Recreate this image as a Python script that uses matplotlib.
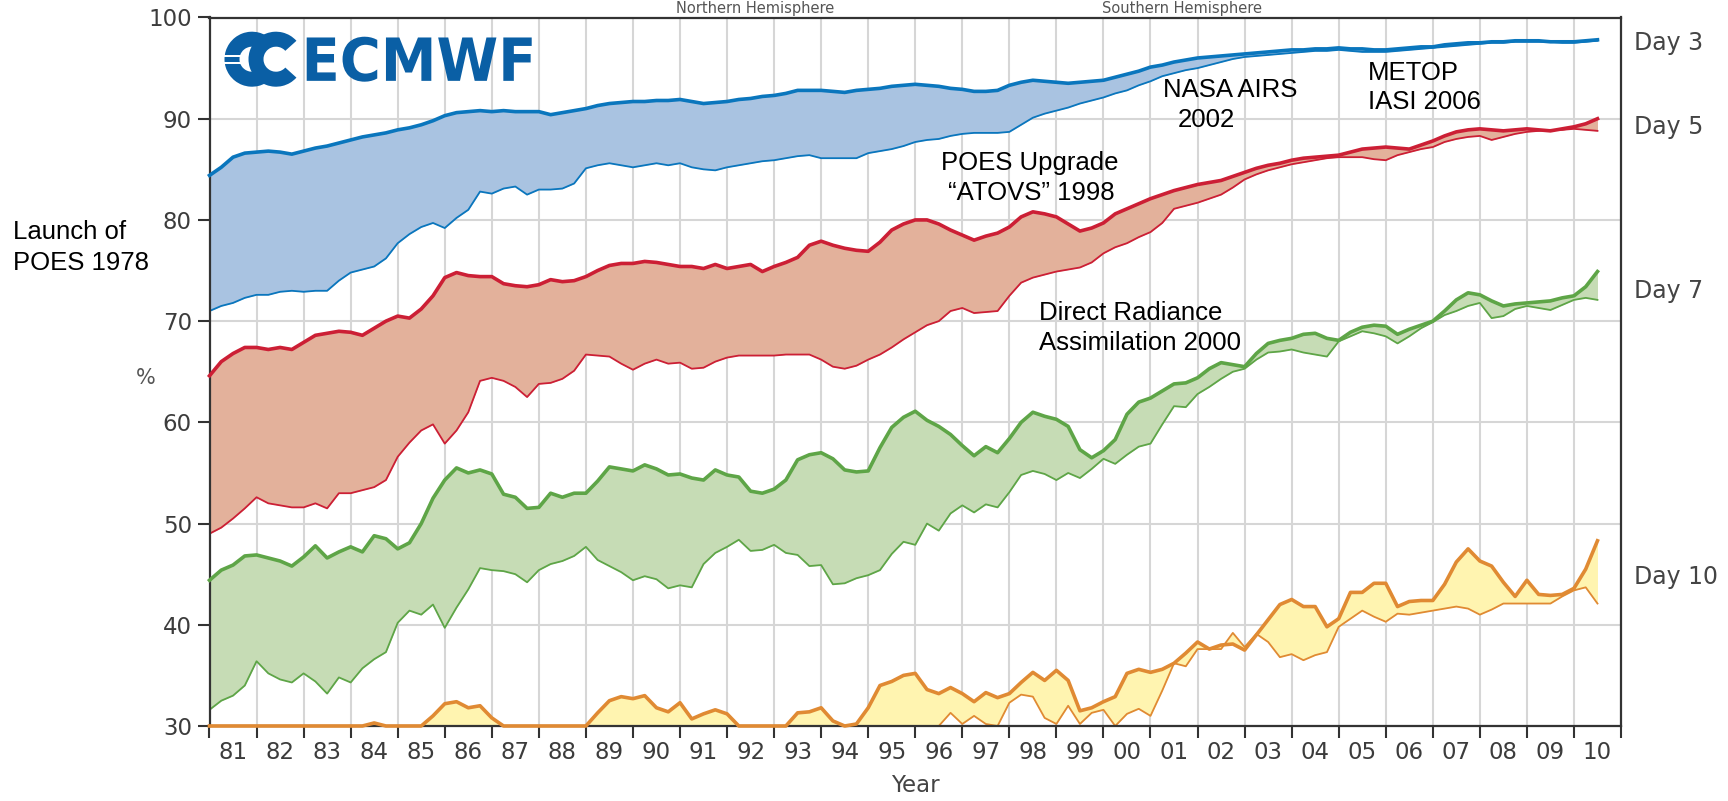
import numpy as np
import matplotlib
matplotlib.use("Agg")
import matplotlib.pyplot as plt
from matplotlib.patches import Wedge, PathPatch, Rectangle
from matplotlib.textpath import TextPath
from matplotlib.font_manager import FontProperties
from matplotlib.transforms import Affine2D

# ---------------- data (quarter-year samples, 1981.0 .. 2010.5) ----------------
start_year = 1981.0
step_year = 0.25

day3_nh = [
    84.4, 85.2, 86.2, 86.6, 86.7, 86.8, 86.7, 86.5, 86.8, 87.1, 87.3, 87.6,
    87.9, 88.2, 88.4, 88.6, 88.9, 89.1, 89.4, 89.8, 90.3, 90.6, 90.7, 90.8,
    90.7, 90.8, 90.7, 90.7, 90.7, 90.4, 90.6, 90.8, 91.0, 91.3, 91.5, 91.6,
    91.7, 91.7, 91.8, 91.8, 91.9, 91.7, 91.5, 91.6, 91.7, 91.9, 92.0, 92.2,
    92.3, 92.5, 92.8, 92.8, 92.8, 92.7, 92.6, 92.8, 92.9, 93.0, 93.2, 93.3,
    93.4, 93.3, 93.2, 93.0, 92.9, 92.7, 92.7, 92.8, 93.3, 93.6, 93.8, 93.7,
    93.6, 93.5, 93.6, 93.7, 93.8, 94.1, 94.4, 94.7, 95.1, 95.3, 95.6, 95.8,
    96.0, 96.1, 96.2, 96.3, 96.4, 96.5, 96.6, 96.7, 96.8, 96.8, 96.9, 96.9,
    97.0, 96.9, 96.9, 96.8, 96.8, 96.9, 97.0, 97.1, 97.1, 97.3, 97.4, 97.5,
    97.5, 97.6, 97.6, 97.7, 97.7, 97.7, 97.6, 97.6, 97.6, 97.7, 97.8]
day3_sh = [
    71.0, 71.5, 71.8, 72.3, 72.6, 72.6, 72.9, 73.0, 72.9, 73.0, 73.0, 74.0,
    74.8, 75.1, 75.4, 76.2, 77.7, 78.6, 79.3, 79.7, 79.2, 80.2, 81.0, 82.8,
    82.6, 83.1, 83.3, 82.5, 83.0, 83.0, 83.1, 83.6, 85.1, 85.4, 85.6, 85.4,
    85.2, 85.4, 85.6, 85.4, 85.6, 85.2, 85.0, 84.9, 85.2, 85.4, 85.6, 85.8,
    85.9, 86.1, 86.3, 86.4, 86.1, 86.1, 86.1, 86.1, 86.6, 86.8, 87.0, 87.3,
    87.7, 87.9, 88.0, 88.3, 88.5, 88.6, 88.6, 88.6, 88.7, 89.4, 90.1, 90.5,
    90.8, 91.1, 91.5, 91.8, 92.1, 92.5, 92.8, 93.3, 93.7, 94.2, 94.5, 94.8,
    95.0, 95.3, 95.6, 95.9, 96.1, 96.2, 96.3, 96.4, 96.5, 96.6, 96.7, 96.7,
    96.8, 96.7, 96.6, 96.6, 96.6, 96.7, 96.8, 96.9, 97.0, 97.1, 97.2, 97.3,
    97.4, 97.5, 97.5, 97.6, 97.6, 97.6, 97.6, 97.5, 97.5, 97.6, 97.7]
day5_nh = [
    64.6, 66.0, 66.8, 67.4, 67.4, 67.2, 67.4, 67.2, 67.9, 68.6, 68.8, 69.0,
    68.9, 68.6, 69.3, 70.0, 70.5, 70.3, 71.2, 72.5, 74.3, 74.8, 74.5, 74.4,
    74.4, 73.7, 73.5, 73.4, 73.6, 74.1, 73.9, 74.0, 74.4, 75.0, 75.5, 75.7,
    75.7, 75.9, 75.8, 75.6, 75.4, 75.4, 75.2, 75.6, 75.2, 75.4, 75.6, 74.9,
    75.4, 75.8, 76.3, 77.5, 77.9, 77.5, 77.2, 77.0, 76.9, 77.8, 79.0, 79.6,
    80.0, 80.0, 79.6, 79.0, 78.5, 78.0, 78.4, 78.7, 79.3, 80.3, 80.8, 80.6,
    80.3, 79.6, 78.9, 79.2, 79.7, 80.6, 81.1, 81.6, 82.1, 82.5, 82.9, 83.2,
    83.5, 83.7, 83.9, 84.3, 84.7, 85.1, 85.4, 85.6, 85.9, 86.1, 86.2, 86.3,
    86.4, 86.7, 87.0, 87.1, 87.2, 87.1, 87.0, 87.4, 87.8, 88.3, 88.7, 88.9,
    89.0, 88.9, 88.8, 88.9, 89.0, 88.9, 88.8, 89.0, 89.2, 89.5, 90.0]
day5_sh = [
    49.0, 49.6, 50.5, 51.5, 52.6, 52.0, 51.8, 51.6, 51.6, 52.0, 51.5, 53.0,
    53.0, 53.3, 53.6, 54.3, 56.6, 58.0, 59.2, 59.8, 57.9, 59.2, 61.0, 64.1,
    64.4, 64.1, 63.5, 62.5, 63.8, 63.9, 64.3, 65.1, 66.7, 66.6, 66.5, 65.8,
    65.2, 65.8, 66.2, 65.8, 65.9, 65.3, 65.4, 66.0, 66.4, 66.6, 66.6, 66.6,
    66.6, 66.7, 66.7, 66.7, 66.2, 65.5, 65.3, 65.6, 66.2, 66.7, 67.4, 68.2,
    68.9, 69.6, 70.0, 71.0, 71.3, 70.8, 70.9, 71.0, 72.5, 73.8, 74.3, 74.6,
    74.9, 75.1, 75.3, 75.8, 76.7, 77.3, 77.7, 78.3, 78.8, 79.7, 81.1, 81.4,
    81.7, 82.1, 82.5, 83.2, 84.0, 84.5, 84.9, 85.2, 85.5, 85.7, 85.9, 86.1,
    86.2, 86.2, 86.2, 86.0, 85.9, 86.4, 86.7, 87.0, 87.2, 87.7, 88.0, 88.2,
    88.3, 87.9, 88.2, 88.5, 88.7, 88.8, 88.9, 88.9, 89.0, 88.9, 88.8]
day7_nh = [
    44.4, 45.4, 45.9, 46.8, 46.9, 46.6, 46.3, 45.8, 46.7, 47.8, 46.6, 47.2,
    47.7, 47.2, 48.8, 48.5, 47.5, 48.1, 50.0, 52.5, 54.3, 55.5, 55.0, 55.3,
    54.9, 52.9, 52.6, 51.5, 51.6, 53.0, 52.6, 53.0, 53.0, 54.2, 55.6, 55.4,
    55.2, 55.8, 55.4, 54.8, 54.9, 54.5, 54.3, 55.3, 54.8, 54.6, 53.2, 53.0,
    53.4, 54.3, 56.3, 56.8, 57.0, 56.4, 55.3, 55.1, 55.2, 57.5, 59.5, 60.5,
    61.1, 60.2, 59.6, 58.8, 57.7, 56.7, 57.6, 57.0, 58.4, 60.0, 61.0, 60.6,
    60.3, 59.6, 57.3, 56.5, 57.2, 58.3, 60.8, 62.0, 62.4, 63.1, 63.8, 63.9,
    64.4, 65.3, 65.9, 65.7, 65.5, 66.8, 67.8, 68.1, 68.3, 68.7, 68.8, 68.3,
    68.1, 68.9, 69.4, 69.6, 69.5, 68.7, 69.2, 69.6, 70.0, 71.0, 72.1, 72.8,
    72.6, 72.0, 71.5, 71.7, 71.8, 71.9, 72.0, 72.3, 72.5, 73.4, 74.9]
day7_sh = [
    31.6, 32.5, 33.0, 34.0, 36.4, 35.2, 34.6, 34.3, 35.2, 34.4, 33.2, 34.8,
    34.3, 35.7, 36.6, 37.3, 40.2, 41.4, 41.0, 42.0, 39.7, 41.7, 43.5, 45.6,
    45.4, 45.3, 45.0, 44.2, 45.4, 46.0, 46.3, 46.8, 47.7, 46.4, 45.8, 45.2,
    44.4, 44.8, 44.5, 43.6, 43.9, 43.7, 46.0, 47.1, 47.7, 48.4, 47.3, 47.4,
    47.9, 47.1, 46.9, 45.8, 45.9, 44.0, 44.1, 44.6, 44.9, 45.4, 47.0, 48.2,
    47.9, 50.0, 49.3, 51.0, 51.8, 51.1, 51.9, 51.6, 53.1, 54.8, 55.2, 54.9,
    54.3, 55.0, 54.5, 55.4, 56.4, 55.9, 56.8, 57.6, 57.9, 59.8, 61.6, 61.5,
    62.8, 63.5, 64.3, 65.0, 65.3, 66.2, 66.9, 67.0, 67.2, 66.9, 66.7, 66.5,
    68.0, 68.5, 69.0, 68.8, 68.5, 67.8, 68.5, 69.3, 69.9, 70.6, 71.0, 71.5,
    71.8, 70.3, 70.5, 71.2, 71.5, 71.3, 71.1, 71.6, 72.1, 72.3, 72.1]
day10_nh = [
    30.0, 30.0, 30.0, 30.0, 30.0, 30.0, 30.0, 30.0, 30.0, 30.0, 30.0, 30.0,
    30.0, 30.0, 30.3, 30.0, 30.0, 30.0, 30.0, 31.0, 32.2, 32.4, 31.8, 32.0,
    30.8, 30.0, 30.0, 30.0, 30.0, 30.0, 30.0, 30.0, 30.0, 31.3, 32.5, 32.9,
    32.7, 33.0, 31.8, 31.4, 32.3, 30.7, 31.2, 31.6, 31.2, 30.0, 30.0, 30.0,
    30.0, 30.0, 31.3, 31.4, 31.8, 30.5, 30.0, 30.2, 31.8, 34.0, 34.4, 35.0,
    35.2, 33.6, 33.2, 33.8, 33.2, 32.4, 33.3, 32.8, 33.2, 34.3, 35.3, 34.5,
    35.5, 34.5, 31.5, 31.8, 32.4, 32.9, 35.2, 35.6, 35.3, 35.6, 36.2, 37.2,
    38.3, 37.6, 38.0, 38.1, 37.5, 39.0, 40.5, 42.0, 42.5, 41.8, 41.8, 39.8,
    40.6, 43.2, 43.2, 44.1, 44.1, 41.8, 42.3, 42.4, 42.4, 44.0, 46.2, 47.5,
    46.3, 45.8, 44.2, 42.8, 44.4, 43.0, 42.9, 43.0, 43.6, 45.5, 48.3]
day10_sh = [
    30.0, 30.0, 30.0, 30.0, 30.0, 30.0, 30.0, 30.0, 30.0, 30.0, 30.0, 30.0,
    30.0, 30.0, 30.0, 30.0, 30.0, 30.0, 30.0, 30.0, 30.0, 30.0, 30.0, 30.0,
    30.0, 30.0, 30.0, 30.0, 30.0, 30.0, 30.0, 30.0, 30.0, 30.0, 30.0, 30.0,
    30.0, 30.0, 30.0, 30.0, 30.0, 30.0, 30.0, 30.0, 30.0, 30.0, 30.0, 30.0,
    30.0, 30.0, 30.0, 30.0, 30.0, 30.0, 30.0, 30.0, 30.0, 30.0, 30.0, 30.0,
    30.0, 30.0, 30.0, 31.3, 30.2, 31.0, 30.2, 30.0, 32.3, 33.1, 32.9, 30.8,
    30.2, 32.0, 30.2, 31.3, 31.6, 30.0, 31.2, 31.7, 31.0, 33.5, 36.2, 35.9,
    37.6, 37.6, 37.6, 39.2, 37.8, 39.1, 38.3, 36.8, 37.1, 36.5, 37.0, 37.3,
    39.8, 40.6, 41.4, 40.8, 40.3, 41.1, 41.0, 41.2, 41.4, 41.6, 41.8, 41.6,
    41.0, 41.5, 42.1, 42.1, 42.1, 42.1, 42.1, 42.8, 43.4, 43.7, 42.1]

year_labels = ["81", "82", "83", "84", "85", "86", "87", "88", "89", "90",
               "91", "92", "93", "94", "95", "96", "97", "98", "99", "00",
               "01", "02", "03", "04", "05", "06", "07", "08", "09", "10"]
y_ticks = [30, 40, 50, 60, 70, 80, 90, 100]
day_labels = ["Day 3", "Day 5", "Day 7", "Day 10"]
day_label_y = [96.8, 88.5, 72.3, 44.0]

# ---------------- figure ----------------
W, H, DPI = 1728, 801, 100
fig = plt.figure(figsize=(W / DPI, H / DPI), dpi=DPI)
fig.patch.set_facecolor("white")
ax = fig.add_axes([209.5 / W, 75 / H, 1411.5 / W, 708.5 / H])

t = start_year + step_year * np.arange(len(day3_nh))

series = [
    (day3_nh, day3_sh, "#0a76bd", "#a9c3e1"),
    (day5_nh, day5_sh, "#cc1f35", "#e3b19b"),
    (day7_nh, day7_sh, "#5ea547", "#c6dcb5"),
    (day10_nh, day10_sh, "#e08a33", "#fff4b0"),
]
for nh, sh, lc, fc in series:
    nh = np.asarray(nh)
    sh = np.asarray(sh)
    ax.fill_between(t, sh, nh, color=fc, lw=0, zorder=2)
    ax.plot(t, sh, color=lc, lw=1.3, zorder=3, solid_joinstyle="round")
    ax.plot(t, nh, color=lc, lw=2.6, zorder=4, solid_joinstyle="round",
            clip_on=False)

ax.set_xlim(1981, 2011)
ax.set_ylim(30, 100)
ax.set_axisbelow(True)

ax.set_xticks(np.arange(1981, 2012, 1))
ax.set_xticklabels([])
ax.set_xticks(np.arange(1981.5, 2011, 1), minor=True)
ax.set_xticklabels(year_labels, minor=True)
ax.set_yticks(y_ticks)
ax.set_yticklabels([str(v) for v in y_ticks])

ax.tick_params(axis="x", which="major", direction="out", length=8.6,
               width=1.5, color="#333333")
ax.tick_params(axis="x", which="minor", length=0, pad=10.5,
               labelsize=16.5, labelcolor="#3c3c3c")
ax.tick_params(axis="y", which="major", direction="out", length=8.6,
               width=1.5, color="#333333", pad=4, labelsize=16.5,
               labelcolor="#3c3c3c")

ax.grid(True, which="major", color="#d6d6d6", lw=1.5)
for sp in ax.spines.values():
    sp.set_color("#333333")
    sp.set_linewidth(1.6)
    sp.set_zorder(3.5)

# ---------------- texts ----------------
ann = dict(family=["Liberation Sans", "DejaVu Sans"], fontsize=18.5,
           color="black", va="baseline")
ax.text(1998.44, 84.93, "POES Upgrade", ha="center", **ann)
ax.text(1998.47, 81.97, "\u201cATOVS\u201d 1998", ha="center", **ann)
ax.text(1998.63, 70.1, "Direct Radiance", ha="left", **ann)
ax.text(1998.63, 67.14, "Assimilation 2000", ha="left", **ann)
ax.text(2001.26, 92.1, "NASA AIRS", ha="left", **ann)
ax.text(2001.58, 89.15, "2002", ha="left", **ann)
ax.text(2005.62, 93.82, "METOP", ha="left", **ann)
ax.text(2005.62, 90.93, "IASI 2006", ha="left", **ann)
fig.text(12.7 / W, 1 - 239 / H, "Launch of", ha="left", **ann)
fig.text(12.7 / W, 1 - 270 / H, "POES 1978", ha="left", **ann)

for lab, yv in zip(day_labels, day_label_y):
    ax.text(2011.28, yv, lab, ha="left", va="baseline", fontsize=17,
            color="#444444", clip_on=False)

fig.text(146 / W, 1 - 378 / H, "%", ha="center", va="center",
         fontsize=15, color="#555555")
fig.text(915 / W, 1 - 785 / H, "Year", ha="center", va="center",
         fontsize=16.5, color="#444444")

# header texts in the thin strip above the plot box
fig.text(755 / W, 1 - 12.5 / H, "Northern Hemisphere", ha="center",
         va="baseline", fontsize=10.5, color="#555555")
fig.text(1182 / W, 1 - 12.5 / H, "Southern Hemisphere", ha="center",
         va="baseline", fontsize=10.5, color="#555555")

# ---------------- ECMWF logo ----------------
logo_blue = "#0a5fa5"
px = Affine2D().scale(1.0 / DPI) + fig.dpi_scale_trans
tp = TextPath((0, 0), "ECMWF", size=1,
              prop=FontProperties(family="DejaVu Sans", weight="bold"))
ext = tp.get_extents()
tx0, ty0 = 306.7, H - 81.7
tw, th = 225.0, 45.0
tr = (Affine2D().translate(-ext.x0, -ext.y0)
      .scale(tw / ext.width, th / ext.height).translate(tx0, ty0))
fig.patches.append(PathPatch(tr.transform_path(tp), facecolor=logo_blue,
                             edgecolor="none", transform=px, figure=fig))
cy = H - 59.2
for cx in (252.0, 276.0):
    fig.patches.append(Wedge((cx, cy), 27.5, 42, 318, width=15,
                             facecolor=logo_blue, edgecolor="none",
                             transform=px, figure=fig))
for dy in (-3.5, 3.5):
    fig.patches.append(Rectangle((224, cy + dy - 1.0), 24, 2.0,
                                 facecolor="white", edgecolor="none",
                                 transform=px, figure=fig))

fig.savefig("out.png", dpi=DPI)
